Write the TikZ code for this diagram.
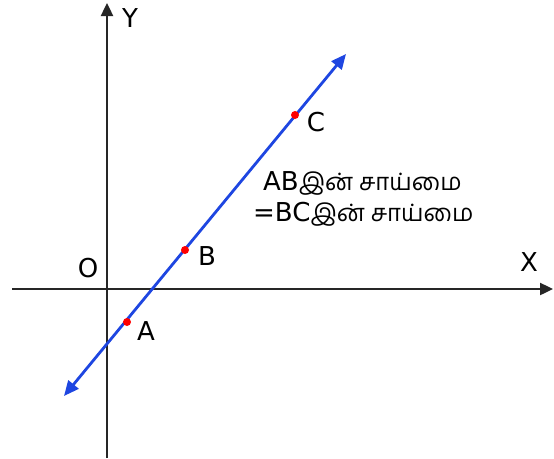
\documentclass[tikz,border=0pt]{standalone}
\usepackage{fontspec}
\setmainfont{DejaVu Sans}
\newfontfamily\tamilfont[Script=Tamil,Scale=0.92]{Hind Madurai}
\usetikzlibrary{calc, positioning}
\usetikzlibrary{arrows.meta}

\definecolor{lineblue}{RGB}{30,70,225}

\begin{document}
\begin{tikzpicture}[x=1pt,y=-1pt,
  axis/.style={line width=2.4pt,black!85,-{Triangle[length=13pt,width=12pt]}},
  slopeline/.style={line width=2.8pt,lineblue,{Triangle[length=15pt,width=13pt]}-{Triangle[length=15pt,width=13pt]}},
  lbl/.style={font=\fontsize{26}{30}\selectfont,inner sep=0pt}]
\useasboundingbox (0,0) rectangle (554,458);

% axes
\coordinate (xl) at (12,289);
\coordinate (xr) at (553,289);
\coordinate (yb) at (107,458);
\coordinate (yt) at (107,3);
\draw[axis] (xl) -- (xr);
\draw[axis] (yb) -- (yt);

% the line through A, B, C
\coordinate (P) at (64,396);
\coordinate (Q) at (346,54);
\draw[slopeline] (P) -- (Q);

\coordinate (A) at (127,322);
\coordinate (B) at (185,250);
\coordinate (C) at (295,115);
\foreach \point in {A,B,C} {
  \fill[red] (\point) circle[radius=4pt];
}

\node[lbl] (lA) at (146,331) {A};
\node[lbl] (lB) at (207,256) {B};
\node[lbl] (lC) at (316,122) {C};
\node[lbl] (lO) at (88,268) {O};
\node[lbl] (lX) at (529,262) {X};
\node[lbl] (lY) at (130,18) {Y};

\node[lbl,anchor=west] (t1) at (263,183) {AB{\tamilfont இன் சாய்மை}};
\node[lbl,anchor=west] (t2) at (253,214) {=BC{\tamilfont இன் சாய்மை}};
\end{tikzpicture}
\end{document}
